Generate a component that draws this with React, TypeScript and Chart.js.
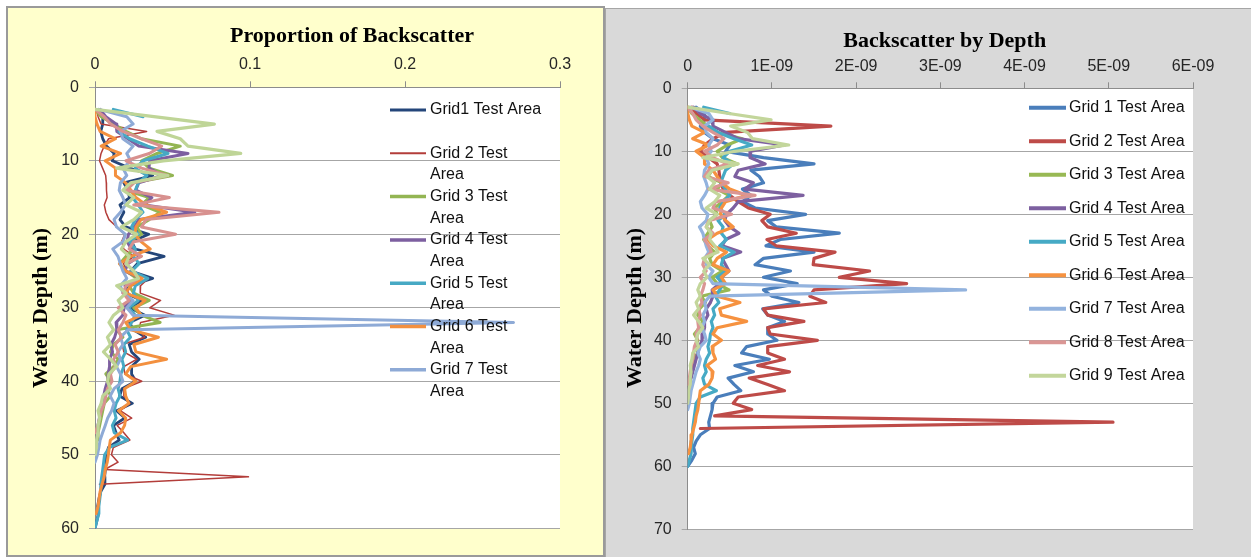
import React, { useEffect, useRef } from "react";
import { Chart, registerables } from "chart.js";

Chart.register(...registerables);

// Sampled water depths (m); every series starts at 3 m and runs as far as its array goes
const DEPTHS = [
  3, 4, 5, 6, 7, 8, 9, 10, 11, 12, 13, 14, 15, 16, 17, 18, 19, 20, 21, 22, 23, 24, 25, 26, 27, 28, 29, 30,
  31, 32, 33, 34, 35, 36, 37, 38, 39, 40, 41, 42, 43, 44, 45, 46, 47, 48, 49, 50, 51, 52, 53, 54, 55, 56,
  57, 58, 59, 60,
];

// ---- Proportion of backscatter per grid ----
const PR_G1 = [0.0025, 0.005, 0.005, 0.0037, 0.005, 0.0074, 0.0124, 0.0112, 0.0223, 0.0372, 0.0186, 0.0211, 0.0223, 0.0161, 0.0186, 0.0161, 0.0198, 0.0347, 0.0236, 0.026, 0.0446, 0.0273, 0.0231, 0.0372, 0.0223, 0.0198, 0.0303, 0.0223, 0.0322, 0.0223, 0.0248, 0.0327, 0.0221, 0.0236, 0.0285, 0.0236, 0.0236, 0.0263, 0.0174, 0.0159, 0.0241, 0.0139, 0.0193, 0.0119, 0.0136, 0.0156, 0.0087, 0.0074, 0.0072, 0.0067, 0.0062, 0.0064, 0.0037, 0.0025, 0.0017, 0.0022, 0.0012, 0];
const PR_G2 = [0.001, 0.002, 0.0039, 0.0333, 0.0088, 0.0059, 0.0039, 0.0029, 0.0049, 0.0069, 0.0073, 0.0074, 0.0078, 0.006, 0.007, 0.009, 0.0141, 0.0192, 0.0172, 0.0186, 0.0253, 0.0184, 0.0206, 0.0343, 0.0294, 0.0292, 0.0423, 0.0353, 0.051, 0.0294, 0.0284, 0.0321, 0.0176, 0.0186, 0.027, 0.0186, 0.0192, 0.0302, 0.0186, 0.0186, 0.0225, 0.0163, 0.0237, 0.0143, 0.0186, 0.0225, 0.0118, 0.0106, 0.0149, 0.0063, 0.099, 0.0029];
const PR_G3 = [0, 0.004, 0.012, 0.02, 0.03, 0.055, 0.04, 0.03, 0.035, 0.05, 0.025, 0.02, 0.035, 0.03, 0.042, 0.035, 0.027, 0.03, 0.022, 0.025, 0.02, 0.016, 0.02, 0.027, 0.022, 0.025, 0.035, 0.025, 0.03, 0.042, 0.014, 0.018, 0.012, 0.01, 0.015, 0.012, 0.007, 0.01, 0.008, 0.01, 0.006, 0.005, 0.004, 0.003, 0.002, 0.002];
const PR_G4 = [0.0033, 0.007, 0.0136, 0.0141, 0.0212, 0.0282, 0.06, 0.0353, 0.0348, 0.0432, 0.0282, 0.0263, 0.0367, 0.032, 0.0644, 0.0282, 0.0254, 0.0216, 0.0207, 0.0235, 0.0287, 0.0212, 0.0193, 0.0296, 0.0193, 0.0212, 0.023, 0.0188, 0.0179, 0.0136, 0.0141, 0.0127, 0.0103, 0.0113, 0.0094, 0.0094, 0.0085, 0.008, 0.0066, 0.0056, 0.0047, 0.0038, 0.0028, 0.0019];
const PR_G5 = [0.0118, 0.031, null, 0.0155, 0.0223, 0.0341, 0.0471, 0.031, 0.026, 0.0335, 0.0279, 0.026, 0.0242, 0.0279, 0.031, 0.026, 0.0236, 0.0279, 0.0223, 0.026, 0.0248, 0.0285, 0.0236, 0.0341, 0.026, 0.0248, 0.0279, 0.0217, 0.026, 0.0236, 0.0205, 0.0229, 0.0186, 0.0198, 0.0174, 0.0186, 0.0167, 0.0161, 0.0149, 0.0161, 0.0136, 0.0124, 0.0136, 0.0112, 0.0124, 0.0211, 0.0093, 0.0062, 0.0056, 0.005, 0.0043, 0.0037, 0.0037, 0.0031, 0.0025, 0.0025, 0.0012, 0];
const PR_G6 = [0, 0, 0.0013, 0.0033, 0.0132, 0.004, 0.0165, 0.0066, 0.0132, 0.0132, 0.0198, 0.0231, 0.0264, 0.033, 0.0462, 0.0297, 0.0264, 0.0257, 0.0297, 0.0356, 0.0231, 0.0158, 0.0198, 0.0304, 0.0231, 0.0198, 0.0323, 0.0264, 0.0297, 0.0198, 0.0231, 0.0409, 0.0251, 0.0264, 0.0462, 0.0231, 0.0198, 0.0264, 0.0191, 0.0198, 0.0218, 0.0152, 0.0198, 0.0191, 0.0165, 0.0099, 0.0092, 0.0086, 0.0079, 0.0066, 0.0059, 0.0046, 0.0033, 0.0026, 0.002, 0.0007];
const PR_G7 = [0.0025, 0.0205, 0.0246, 0.0164, 0.018, 0.0246, 0.0205, 0.023, 0.018, 0.0205, 0.0164, 0.0156, 0.018, 0.0197, 0.0164, 0.0123, 0.0139, 0.0197, 0.018, 0.0115, 0.0148, 0.0164, 0.018, 0.0205, 0.0164, 0.018, 0.0246, 0.0205, 0.0246, 0.27, 0.0213, 0.0164, 0.018, 0.0148, 0.0164, 0.0139, 0.0164, 0.018, 0.0123, 0.0098, 0.0123, 0.0107, 0.0082, 0.0066, 0.0049, 0.0033, 0.0025, 0.0016, 0];
const PR_G8 = [0, 0.006, 0.01, 0.018, 0.03, 0.043, 0.035, 0.02, 0.03, 0.047, 0.025, 0.02, 0.048, 0.025, 0.08, 0.033, 0.03, 0.052, 0.025, 0.022, 0.03, 0.02, 0.025, 0.028, 0.02, 0.018, 0.022, 0.015, 0.02, 0.018, 0.015, 0.017, 0.013, 0.015, 0.012, 0.013, 0.01, 0.011, 0.008, 0.007, 0.006, 0.004, 0.003, 0.002, 0];
const PR_G9 = [0, 0.038, 0.077, 0.04, 0.055, 0.06, 0.094, 0.044, 0.014, 0.047, 0.023, 0.018, 0.025, 0.02, 0.03, 0.025, 0.017, 0.027, 0.02, 0.017, 0.022, 0.02, 0.025, 0.028, 0.014, 0.02, 0.015, 0.018, 0.012, 0.009, 0.012, 0.008, 0.01, 0.0055, 0.01, 0.014, 0.009, 0.008, 0.01, 0.005, 0.004, 0.002, 0.003, 0.002, 0.002, 0.001, 0.001, 0];

// ---- Backscatter by depth, in units of 1E-09 ----
const BS_G1 = [0.1, 0.2, 0.2, 0.15, 0.2, 0.3, 0.5, 0.45, 0.9, 1.5, 0.75, 0.85, 0.9, 0.65, 0.75, 0.65, 0.8, 1.4, 0.95, 1.05, 1.8, 1.1, 0.93, 1.5, 0.9, 0.8, 1.22, 0.9, 1.3, 0.9, 1.0, 1.32, 0.89, 0.95, 1.15, 0.95, 0.95, 1.06, 0.7, 0.64, 0.97, 0.56, 0.78, 0.48, 0.55, 0.63, 0.35, 0.3, 0.29, 0.27, 0.25, 0.26, 0.15, 0.1, 0.07, 0.09, 0.05, 0];
const BS_G2 = [0.05, 0.1, 0.2, 1.7, 0.45, 0.3, 0.2, 0.15, 0.25, 0.35, 0.37, 0.38, 0.4, 0.42, 0.5, 0.6, 0.72, 0.98, 0.88, 0.95, 1.29, 0.94, 1.05, 1.75, 1.5, 1.49, 2.16, 1.8, 2.6, 1.5, 1.45, 1.64, 0.9, 0.95, 1.38, 0.95, 0.98, 1.54, 0.95, 0.95, 1.15, 0.83, 1.21, 0.73, 0.95, 1.15, 0.6, 0.54, 0.76, 0.32, 5.05, 0.15];
const BS_G3 = [0, 0.05, 0.14, 0.24, 0.35, 0.65, 0.47, 0.35, 0.41, 0.59, 0.29, 0.24, 0.41, 0.35, 0.49, 0.41, 0.32, 0.35, 0.26, 0.29, 0.24, 0.19, 0.24, 0.32, 0.26, 0.29, 0.41, 0.29, 0.35, 0.49, 0.16, 0.21, 0.14, 0.12, 0.18, 0.14, 0.08, 0.12, 0.09, 0.12, 0.07, 0.06, 0.05, 0.035, 0.024, 0.024];
const BS_G4 = [0.07, 0.15, 0.29, 0.3, 0.45, 0.6, 1.15, 0.75, 0.74, 0.92, 0.6, 0.56, 0.78, 0.68, 1.37, 0.6, 0.54, 0.46, 0.44, 0.5, 0.61, 0.45, 0.41, 0.63, 0.41, 0.45, 0.49, 0.4, 0.38, 0.29, 0.3, 0.27, 0.22, 0.24, 0.2, 0.2, 0.18, 0.17, 0.14, 0.12, 0.1, 0.08, 0.06, 0.04];
const BS_G5 = [0.19, 0.5, null, 0.25, 0.36, 0.55, 0.76, 0.5, 0.42, 0.54, 0.45, 0.42, 0.39, 0.45, 0.5, 0.42, 0.38, 0.45, 0.36, 0.42, 0.4, 0.46, 0.38, 0.55, 0.42, 0.4, 0.45, 0.35, 0.42, 0.38, 0.33, 0.37, 0.3, 0.32, 0.28, 0.3, 0.27, 0.26, 0.24, 0.26, 0.22, 0.2, 0.22, 0.18, 0.2, 0.34, 0.15, 0.1, 0.09, 0.08, 0.07, 0.06, 0.06, 0.05, 0.04, 0.04, 0.02, 0];
const BS_G6 = [0, 0, 0.02, 0.05, 0.2, 0.06, 0.25, 0.1, 0.2, 0.2, 0.3, 0.35, 0.4, 0.5, 0.7, 0.45, 0.4, 0.39, 0.45, 0.54, 0.35, 0.24, 0.3, 0.46, 0.35, 0.3, 0.49, 0.4, 0.45, 0.3, 0.35, 0.62, 0.38, 0.4, 0.7, 0.35, 0.3, 0.4, 0.29, 0.3, 0.33, 0.23, 0.3, 0.29, 0.25, 0.15, 0.14, 0.13, 0.12, 0.1, 0.09, 0.07, 0.05, 0.04, 0.03, 0.01];
const BS_G7 = [0.03, 0.25, 0.3, 0.2, 0.22, 0.3, 0.25, 0.28, 0.22, 0.25, 0.2, 0.19, 0.22, 0.24, 0.2, 0.15, 0.17, 0.24, 0.22, 0.14, 0.18, 0.2, 0.22, 0.25, 0.2, 0.22, 0.3, 0.25, 0.3, 3.3, 0.26, 0.2, 0.22, 0.18, 0.2, 0.17, 0.2, 0.22, 0.15, 0.12, 0.15, 0.13, 0.1, 0.08, 0.06, 0.04, 0.03, 0.02, 0];
const BS_G8 = [0, 0.06, 0.1, 0.18, 0.3, 0.43, 0.35, 0.2, 0.3, 0.47, 0.25, 0.2, 0.48, 0.25, 0.8, 0.33, 0.3, 0.52, 0.25, 0.22, 0.3, 0.2, 0.25, 0.28, 0.2, 0.18, 0.22, 0.15, 0.2, 0.18, 0.15, 0.17, 0.13, 0.15, 0.12, 0.13, 0.1, 0.11, 0.08, 0.07, 0.06, 0.04, 0.03, 0.02, 0];
const BS_G9 = [0, 0.49, 0.99, 0.51, 0.71, 0.77, 1.2, 0.56, 0.18, 0.6, 0.29, 0.23, 0.32, 0.26, 0.38, 0.32, 0.22, 0.35, 0.26, 0.22, 0.28, 0.26, 0.32, 0.36, 0.18, 0.26, 0.19, 0.23, 0.15, 0.12, 0.15, 0.1, 0.13, 0.07, 0.13, 0.18, 0.12, 0.1, 0.13, 0.06, 0.05, 0.03, 0.04, 0.03, 0.03, 0.01, 0.01, 0];

// Series names
const LEFT_NAMES = [
  "Grid1 Test Area", "Grid 2 Test Area", "Grid 3 Test Area", "Grid 4 Test Area", "Grid 5 Test Area",
  "Grid 6 Test Area", "Grid 7 Test Area", "Grid 8 Test Area", "Grid 9 Test Area",
];
const RIGHT_NAMES = [
  "Grid 1 Test Area", "Grid 2 Test Area", "Grid 3 Test Area", "Grid 4 Test Area", "Grid 5 Test Area",
  "Grid 6 Test Area", "Grid 7 Test Area", "Grid 8 Test Area", "Grid 9 Test Area",
];

// Axis ticks
const LEFT_X_TICKS = [0, 0.1, 0.2, 0.3];
const LEFT_X_LABELS = ["0", "0.1", "0.2", "0.3"];
const RIGHT_X_TICKS = [0, 1, 2, 3, 4, 5, 6];
const RIGHT_X_LABELS = ["0", "1E-09", "2E-09", "3E-09", "4E-09", "5E-09", "6E-09"];
const LEFT_Y_TICKS = [0, 10, 20, 30, 40, 50, 60];
const RIGHT_Y_TICKS = [0, 10, 20, 30, 40, 50, 60, 70];

const LEFT_COLORS = ["#24467A", "#B33D3A", "#93B553", "#7D5FA0", "#47A9C4", "#F3903F", "#8EAAD6", "#D8918F", "#BFD597"];
const RIGHT_COLORS = ["#4A7EBB", "#BE4B48", "#98B954", "#7D60A0", "#46AAC5", "#F69240", "#93B3DE", "#DA9694", "#C3D69B"];
const LEFT_WIDTHS = [2.8, 1.5, 3, 3, 3, 3, 3, 3, 3.2];
const RIGHT_WIDTHS = [3.2, 3.2, 3.2, 3.2, 3.2, 3.2, 3.2, 3.2, 3.2];

const SANS = '"Liberation Sans", Arial, sans-serif';
const SERIF = '"Liberation Serif", "Times New Roman", serif';

type Legend = {
  count: number;
  lineX0: number;
  lineX1: number;
  textX: number;
  y0: number;
  step: number;
  gap: number;
  wrap: number;
  lineWidths: number[];
};

type PanelSpec = {
  width: number;
  height: number;
  left: number;
  plotLeft: number;
  plotTop: number;
  padRight: number;
  padBottom: number;
  xMax: number;
  yMax: number;
  xTicks: number[];
  xLabels: string[];
  yTicks: number[];
  tickPad: number;
  series: (number | null)[][];
  names: string[];
  colors: string[];
  widths: number[];
  title: string;
  titleX: number;
  titleY: number;
  axisTitle: string;
  axisX: number;
  axisY: number;
  legend: Legend;
};

function wrapText(ctx: CanvasRenderingContext2D, text: string, maxW: number): string[] {
  const words = text.split(" ");
  const lines: string[] = [];
  let cur = "";
  for (const w of words) {
    const next = cur ? cur + " " + w : w;
    if (cur && ctx.measureText(next).width > maxW) {
      lines.push(cur);
      cur = w;
    } else {
      cur = next;
    }
  }
  if (cur) lines.push(cur);
  return lines;
}

function decorPlugin(spec: PanelSpec) {
  return {
    id: "panelDecor",
    beforeDraw(chart: any) {
      const { ctx, chartArea } = chart;
      ctx.save();
      ctx.fillStyle = "#FFFFFF";
      ctx.fillRect(chartArea.left, chartArea.top, chartArea.right - chartArea.left, chartArea.bottom - chartArea.top);
      ctx.restore();
    },
    afterDraw(chart: any) {
      const ctx: CanvasRenderingContext2D = chart.ctx;
      ctx.save();
      // chart title
      ctx.fillStyle = "#000000";
      ctx.font = `bold 22px ${SERIF}`;
      ctx.textAlign = "center";
      ctx.textBaseline = "alphabetic";
      ctx.fillText(spec.title, spec.titleX, spec.titleY);
      // depth axis title
      ctx.save();
      ctx.translate(spec.axisX, spec.axisY);
      ctx.rotate(-Math.PI / 2);
      ctx.textBaseline = "middle";
      ctx.fillText(spec.axisTitle, 0, 0);
      ctx.restore();
      // legend
      const lg = spec.legend;
      ctx.font = `16px ${SANS}`;
      ctx.textAlign = "left";
      ctx.textBaseline = "middle";
      for (let i = 0; i < lg.count; i++) {
        const y = lg.y0 + lg.step * i;
        ctx.strokeStyle = spec.colors[i];
        ctx.lineWidth = lg.lineWidths[i];
        ctx.lineCap = "butt";
        ctx.beginPath();
        ctx.moveTo(lg.lineX0, y);
        ctx.lineTo(lg.lineX1, y);
        ctx.stroke();
        ctx.fillStyle = "#111111";
        const lines = wrapText(ctx, spec.names[i], lg.wrap);
        lines.forEach((ln, k) => ctx.fillText(ln, lg.textX, y + k * lg.gap));
      }
      ctx.restore();
    },
  };
}

function buildConfig(spec: PanelSpec): any {
  const datasets = spec.series.map((vals, i) => ({
    label: spec.names[i],
    data: vals.map((v, k) => ({ x: v === null ? null : v, y: DEPTHS[k] })),
    showLine: true,
    borderColor: spec.colors[i],
    backgroundColor: spec.colors[i],
    borderWidth: spec.widths[i],
    pointRadius: 0,
    pointHoverRadius: 0,
    tension: 0,
    spanGaps: false,
    borderJoinStyle: "round",
    borderCapStyle: "round",
    order: spec.series.length - i,
  }));
  const tickFont = { family: SANS, size: 16 };
  return {
    type: "scatter",
    data: { datasets },
    options: {
      responsive: false,
      maintainAspectRatio: false,
      animation: false,
      devicePixelRatio: 1,
      events: [],
      layout: { padding: { left: 0, top: 0, right: spec.padRight, bottom: spec.padBottom } },
      plugins: { legend: { display: false }, tooltip: { enabled: false }, title: { display: false } },
      scales: {
        x: {
          type: "linear",
          position: "top",
          min: 0,
          max: spec.xMax,
          afterBuildTicks: (scale: any) => {
            scale.ticks = spec.xTicks.map((v) => ({ value: v }));
          },
          afterFit: (scale: any) => {
            scale.height = spec.plotTop;
          },
          ticks: {
            autoSkip: false,
            maxRotation: 0,
            padding: spec.tickPad,
            color: "#262626",
            font: tickFont,
            callback: (_v: any, idx: number) => spec.xLabels[idx],
          },
          grid: { drawOnChartArea: false, drawTicks: true, tickLength: 6, color: "#8C8C8C", lineWidth: 1 },
          border: { display: true, color: "#8C8C8C", width: 1 },
        },
        y: {
          type: "linear",
          reverse: true,
          min: 0,
          max: spec.yMax,
          afterBuildTicks: (scale: any) => {
            scale.ticks = spec.yTicks.map((v) => ({ value: v }));
          },
          afterFit: (scale: any) => {
            scale.width = spec.plotLeft;
          },
          ticks: {
            autoSkip: false,
            padding: 10,
            color: "#262626",
            font: tickFont,
            callback: (v: any) => String(v),
          },
          grid: { drawOnChartArea: true, drawTicks: true, tickLength: 6, color: "#A6A6A6", lineWidth: 1 },
          border: { display: true, color: "#8C8C8C", width: 1 },
        },
      },
    },
    plugins: [decorPlugin(spec)],
  };
}

const LEFT_SPEC: PanelSpec = {
  width: 606,
  height: 557,
  left: 0,
  plotLeft: 95,
  plotTop: 87.3,
  padRight: 46,
  padBottom: 28.7,
  xMax: 0.3,
  yMax: 60,
  xTicks: LEFT_X_TICKS,
  xLabels: LEFT_X_LABELS,
  yTicks: LEFT_Y_TICKS,
  tickPad: 7,
  series: [PR_G1, PR_G2, PR_G3, PR_G4, PR_G5, PR_G6, PR_G7, PR_G8, PR_G9],
  names: LEFT_NAMES,
  colors: LEFT_COLORS,
  widths: LEFT_WIDTHS,
  title: "Proportion of Backscatter",
  titleX: 352,
  titleY: 41.5,
  axisTitle: "Water Depth (m)",
  axisX: 41,
  axisY: 308,
  legend: {
    count: 7,
    lineX0: 390,
    lineX1: 426,
    textX: 430,
    y0: 110,
    step: 43.3,
    gap: 21.7,
    wrap: 115,
    lineWidths: [3, 2, 3.5, 3.5, 3.5, 3.5, 3.5],
  },
};

const RIGHT_SPEC: PanelSpec = {
  width: 645,
  height: 557,
  left: 606,
  plotLeft: 81.7,
  plotTop: 88.3,
  padRight: 58,
  padBottom: 27.7,
  xMax: 6,
  yMax: 70,
  xTicks: RIGHT_X_TICKS,
  xLabels: RIGHT_X_LABELS,
  yTicks: RIGHT_Y_TICKS,
  tickPad: 6,
  series: [BS_G1, BS_G2, BS_G3, BS_G4, BS_G5, BS_G6, BS_G7, BS_G8, BS_G9],
  names: RIGHT_NAMES,
  colors: RIGHT_COLORS,
  widths: RIGHT_WIDTHS,
  title: "Backscatter by Depth",
  titleX: 338.7,
  titleY: 46.7,
  axisTitle: "Water Depth (m)",
  axisX: 29,
  axisY: 308,
  legend: {
    count: 9,
    lineX0: 423,
    lineX1: 460,
    textX: 463,
    y0: 107.8,
    step: 33.5,
    gap: 0,
    wrap: 999,
    lineWidths: [4, 4, 4, 4, 4, 4, 4, 4, 4],
  },
};

function PanelChart({ spec }: { spec: PanelSpec }) {
  const ref = useRef<HTMLCanvasElement | null>(null);
  useEffect(() => {
    if (!ref.current) return;
    const chart = new Chart(ref.current, buildConfig(spec));
    return () => chart.destroy();
  }, [spec]);
  return (
    <canvas
      ref={ref}
      width={spec.width}
      height={spec.height}
      style={{ position: "absolute", left: spec.left, top: 0, width: spec.width, height: spec.height }}
    />
  );
}

export default function App() {
  return (
    <div
      style={{
        position: "absolute",
        left: 0,
        top: 0,
        width: 1251,
        height: 557,
        background: "#FFFFFF",
        overflow: "hidden",
      }}
    >
      <div
        style={{
          position: "absolute",
          left: 6,
          top: 6,
          width: 599,
          height: 551,
          boxSizing: "border-box",
          border: "2px solid #9A9A9A",
          background: "#FFFFCC",
        }}
      />
      <div
        style={{
          position: "absolute",
          left: 605,
          top: 8,
          width: 646,
          height: 549,
          boxSizing: "border-box",
          borderTop: "1px solid #A6A6A6",
          borderLeft: "1px solid #A6A6A6",
          background: "#D9D9D9",
        }}
      />
      <PanelChart spec={LEFT_SPEC} />
      <PanelChart spec={RIGHT_SPEC} />
    </div>
  );
}
